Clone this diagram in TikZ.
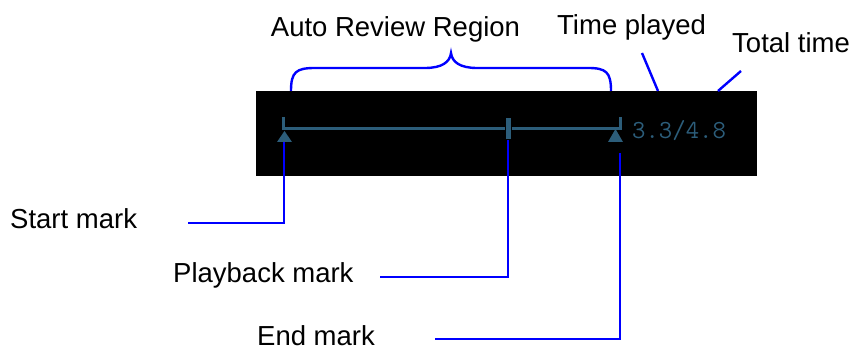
\documentclass[tikz,border=0pt]{standalone}
\usepackage{fontspec}
\setmainfont{Liberation Sans}
\usepackage{tikz}
\definecolor{leadblue}{RGB}{0,0,255}
\definecolor{tlblue}{RGB}{44,93,122}

\begin{document}
\begin{tikzpicture}[x=1pt, y=-1pt, every node/.style={inner sep=0pt},
  lbl/.style={font=\fontsize{27.5}{33}\selectfont, anchor=base west},
  leader/.style={leadblue, line width=2.4pt},
  bar/.style={tlblue, line width=3pt}]
\useasboundingbox (0,0) rectangle (852,352);
\fill[black] (256,91) rectangle (757,176);
% timeline and marks
\draw[bar] (283,129) -- (620,129);
\draw[bar] (283,117) -- (283,130);
\draw[bar] (620,117) -- (620,130);
\fill[tlblue] (284.5,131) -- (292,142) -- (277,142) -- cycle;
\fill[tlblue] (615.5,129) -- (623,142) -- (608,142) -- cycle;
\filldraw[fill=tlblue, draw=black, line width=1pt] (505,118) rectangle (511,140);
\node[font=\ttfamily\fontsize{26}{30}\selectfont, text=tlblue, anchor=west] (timetxt) at (632,131) {3.3/4.8};
\coordinate (startpt) at (284,142);
\coordinate (playpt) at (508,140);
\coordinate (endpt) at (620,153);
\coordinate (playedpt) at (658,91);
\coordinate (totalpt) at (718,91);
% brace over the review region
\draw[leader] (291,91) .. controls (291,72) and (296,68) .. (315,68) -- (425,68)
  .. controls (442,68) and (450,62) .. (451,53)
  .. controls (452,62) and (460,68) .. (477,68) -- (588,68)
  .. controls (606,68) and (611,72) .. (611,91);
% labels
\node[lbl] (startlbl) at (10,229) {Start mark};
\node[lbl] (playlbl) at (173,283) {Playback mark};
\node[lbl] (endlbl) at (257,346) {End mark};
\node[lbl, anchor=base] (regionlbl) at (395.5,37) {Auto Review Region};
\node[lbl] (playedlbl) at (557,35) {Time played};
\node[lbl] (totallbl) at (732,53) {Total time};
% leaders
\coordinate (startfree) at (188,223);
\coordinate (playfree) at (380,277);
\coordinate (endfree) at (435,339);
\coordinate (playedfree) at (642,53);
\coordinate (totalfree) at (741,71);
\draw[leader] (startfree) -| (startpt);
\draw[leader] (playfree) -| (playpt);
\draw[leader] (endfree) -| (endpt);
\draw[leader] (playedfree) -- (playedpt);
\draw[leader] (totalfree) -- (totalpt);
\end{tikzpicture}
\end{document}
